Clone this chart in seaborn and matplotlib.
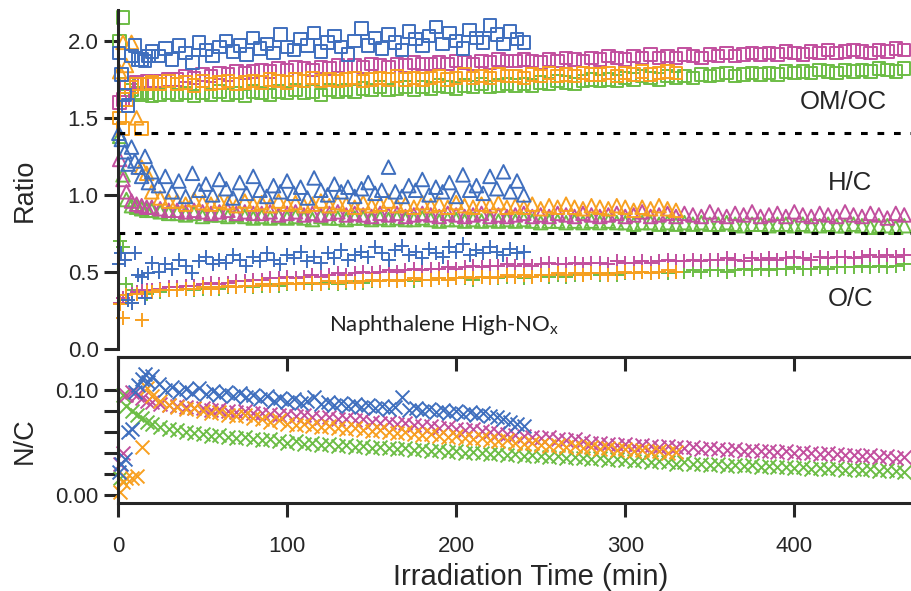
import matplotlib
matplotlib.use("Agg")
import matplotlib.pyplot as plt
import seaborn as sns

# ---- values ----
early_time = [1, 3, 5, 8, 11, 14, 17, 20, 25, 30]
late_time = [35, 40, 45, 50, 55, 60, 65, 70, 75, 80,
             85, 90, 95, 100, 105, 110, 115, 120, 125, 130,
             135, 140, 145, 150, 155, 160, 165, 170, 175, 180,
             185, 190, 195, 200, 205, 210, 215, 220, 225, 230,
             235, 240, 245, 250, 255, 260, 265, 270, 275, 280,
             285, 290, 295, 300, 305, 310, 315, 320, 325, 330,
             335, 340, 345, 350, 355, 360, 365, 370, 375, 380,
             385, 390, 395, 400, 405, 410, 415, 420, 425, 430,
             435, 440, 445, 450, 455, 460, 465]
blue_time = [0.5, 2, 4, 6, 8, 10, 12, 14, 16, 18, 20,
             24, 28, 32, 36, 40, 44, 48, 52, 56, 60,
             64, 68, 72, 76, 80, 84, 88, 92, 96, 100,
             104, 108, 112, 116, 120, 124, 128, 132, 136, 140,
             144, 148, 152, 156, 160, 164, 168, 172, 176, 180,
             184, 188, 192, 196, 200, 204, 208, 212, 216, 220,
             224, 228, 232, 236, 240]

# green run
green_omoc = [2.00, 2.15, 1.72, 1.68, 1.66, 1.65, 1.66, 1.64, 1.65, 1.66,
              1.65, 1.66, 1.64, 1.66, 1.65, 1.67, 1.65, 1.66, 1.64, 1.67,
              1.66, 1.65, 1.67, 1.66, 1.68, 1.66, 1.67, 1.65, 1.68, 1.67,
              1.68, 1.67, 1.69, 1.68, 1.70, 1.68, 1.69, 1.70, 1.68, 1.70,
              1.69, 1.71, 1.70, 1.69, 1.71, 1.70, 1.72, 1.70, 1.71, 1.72,
              1.71, 1.72, 1.71, 1.73, 1.72, 1.74, 1.73, 1.72, 1.74, 1.75,
              1.74, 1.75, 1.74, 1.76, 1.75, 1.77, 1.76, 1.75, 1.77, 1.76,
              1.77, 1.76, 1.78, 1.77, 1.78, 1.79, 1.77, 1.78, 1.79, 1.78,
              1.79, 1.78, 1.80, 1.79, 1.80, 1.79, 1.81, 1.80, 1.79, 1.81,
              1.80, 1.81, 1.80, 1.82, 1.81, 1.80, 1.82]
green_hc = [1.38, 1.13, 0.97, 0.93, 0.92, 0.91, 0.90, 0.90, 0.89, 0.88,
            0.88, 0.87, 0.88, 0.86, 0.87, 0.87, 0.86, 0.87, 0.86, 0.85,
            0.86, 0.85, 0.86, 0.85, 0.86, 0.85, 0.84, 0.86, 0.85, 0.85,
            0.84, 0.85, 0.85, 0.84, 0.85, 0.84, 0.85, 0.84, 0.84, 0.85,
            0.84, 0.83, 0.84, 0.84, 0.83, 0.84, 0.83, 0.84, 0.83, 0.84,
            0.83, 0.84, 0.83, 0.82, 0.83, 0.83, 0.82, 0.83, 0.82, 0.83,
            0.82, 0.83, 0.82, 0.82, 0.81, 0.82, 0.82, 0.81, 0.82, 0.81,
            0.82, 0.81, 0.82, 0.81, 0.81, 0.82, 0.81, 0.80, 0.81, 0.81,
            0.80, 0.81, 0.81, 0.80, 0.81, 0.80, 0.80, 0.81, 0.80, 0.80,
            0.81, 0.80, 0.79, 0.80, 0.80, 0.79, 0.80]
green_oc = [0.70, 0.66, 0.42, 0.38, 0.37, 0.37, 0.36, 0.37, 0.37, 0.38,
            0.38, 0.39, 0.38, 0.39, 0.40, 0.39, 0.40, 0.40, 0.41, 0.40,
            0.41, 0.42, 0.41, 0.42, 0.42, 0.43, 0.42, 0.43, 0.43, 0.42,
            0.43, 0.44, 0.43, 0.44, 0.44, 0.45, 0.44, 0.45, 0.44, 0.45,
            0.45, 0.46, 0.45, 0.46, 0.46, 0.45, 0.47, 0.46, 0.46, 0.47,
            0.47, 0.46, 0.47, 0.48, 0.47, 0.48, 0.47, 0.48, 0.48, 0.49,
            0.48, 0.49, 0.48, 0.49, 0.49, 0.50, 0.49, 0.50, 0.49, 0.50,
            0.50, 0.51, 0.50, 0.51, 0.51, 0.50, 0.51, 0.52, 0.51, 0.52,
            0.51, 0.52, 0.52, 0.53, 0.52, 0.52, 0.53, 0.52, 0.53, 0.53,
            0.53, 0.54, 0.53, 0.54, 0.53, 0.54, 0.55]
green_nc = [0.016, 0.095, 0.085, 0.080, 0.076, 0.073, 0.070, 0.068, 0.065, 0.063,
            0.062, 0.060, 0.059, 0.058, 0.056, 0.057, 0.055, 0.054, 0.055, 0.053,
            0.052, 0.053, 0.051, 0.050, 0.051, 0.049, 0.050, 0.048, 0.049, 0.047,
            0.048, 0.046, 0.047, 0.045, 0.046, 0.045, 0.044, 0.045, 0.043, 0.044,
            0.042, 0.043, 0.041, 0.042, 0.040, 0.041, 0.040, 0.039, 0.040, 0.038,
            0.039, 0.037, 0.038, 0.037, 0.036, 0.037, 0.035, 0.036, 0.035, 0.034,
            0.035, 0.033, 0.034, 0.033, 0.032, 0.033, 0.031, 0.032, 0.031, 0.030,
            0.031, 0.030, 0.030, 0.029, 0.030, 0.028, 0.029, 0.028, 0.029, 0.027,
            0.028, 0.027, 0.027, 0.026, 0.027, 0.025, 0.026, 0.025, 0.026, 0.024,
            0.025, 0.024, 0.025, 0.023, 0.024, 0.023, 0.022]

# magenta run
magenta_omoc = [1.60, 1.62, 1.70, 1.72, 1.73, 1.72, 1.74, 1.73, 1.74, 1.75,
                1.75, 1.77, 1.76, 1.78, 1.77, 1.79, 1.78, 1.80, 1.79, 1.80,
                1.81, 1.80, 1.82, 1.81, 1.83, 1.82, 1.81, 1.83, 1.82, 1.84,
                1.83, 1.84, 1.83, 1.85, 1.84, 1.83, 1.85, 1.84, 1.86, 1.85,
                1.85, 1.86, 1.85, 1.87, 1.86, 1.85, 1.87, 1.86, 1.88, 1.87,
                1.87, 1.88, 1.87, 1.86, 1.88, 1.87, 1.89, 1.88, 1.87, 1.89,
                1.88, 1.90, 1.89, 1.88, 1.90, 1.89, 1.91, 1.89, 1.90, 1.89,
                1.91, 1.90, 1.89, 1.91, 1.90, 1.92, 1.90, 1.91, 1.92, 1.91,
                1.92, 1.91, 1.93, 1.92, 1.91, 1.93, 1.92, 1.94, 1.92, 1.93,
                1.94, 1.93, 1.92, 1.94, 1.93, 1.95, 1.94]
magenta_hc = [1.23, 1.10, 1.02, 0.96, 0.94, 0.93, 0.92, 0.92, 0.91, 0.90,
              0.90, 0.89, 0.90, 0.89, 0.88, 0.89, 0.90, 0.88, 0.89, 0.88,
              0.88, 0.89, 0.87, 0.88, 0.89, 0.87, 0.88, 0.87, 0.88, 0.89,
              0.87, 0.88, 0.87, 0.86, 0.88, 0.87, 0.88, 0.86, 0.87, 0.88,
              0.87, 0.86, 0.88, 0.87, 0.86, 0.87, 0.88, 0.86, 0.87, 0.86,
              0.87, 0.88, 0.86, 0.87, 0.86, 0.88, 0.87, 0.86, 0.88, 0.87,
              0.86, 0.87, 0.88, 0.86, 0.87, 0.89, 0.86, 0.87, 0.88, 0.86,
              0.88, 0.87, 0.86, 0.89, 0.87, 0.86, 0.88, 0.87, 0.89, 0.86,
              0.87, 0.88, 0.86, 0.89, 0.87, 0.86, 0.88, 0.87, 0.86, 0.89,
              0.87, 0.86, 0.88, 0.87, 0.85, 0.88, 0.87]
magenta_oc = [0.30, 0.33, 0.35, 0.36, 0.37, 0.38, 0.38, 0.38, 0.39, 0.40,
              0.40, 0.41, 0.41, 0.42, 0.43, 0.42, 0.43, 0.44, 0.44, 0.45,
              0.45, 0.46, 0.46, 0.47, 0.46, 0.47, 0.48, 0.47, 0.48, 0.49,
              0.48, 0.49, 0.50, 0.49, 0.50, 0.51, 0.50, 0.51, 0.52, 0.51,
              0.52, 0.52, 0.53, 0.52, 0.53, 0.54, 0.53, 0.54, 0.54, 0.55,
              0.54, 0.55, 0.54, 0.55, 0.56, 0.55, 0.55, 0.56, 0.55, 0.56,
              0.56, 0.55, 0.57, 0.56, 0.56, 0.57, 0.56, 0.57, 0.58, 0.57,
              0.57, 0.58, 0.57, 0.58, 0.58, 0.59, 0.58, 0.57, 0.59, 0.58,
              0.59, 0.58, 0.59, 0.60, 0.59, 0.58, 0.60, 0.59, 0.60, 0.60,
              0.59, 0.60, 0.61, 0.60, 0.61, 0.60, 0.61]
magenta_nc = [0.030, 0.040, 0.095, 0.098, 0.095, 0.092, 0.090, 0.089, 0.087, 0.086,
              0.085, 0.084, 0.083, 0.083, 0.081, 0.082, 0.080, 0.079, 0.080, 0.078,
              0.078, 0.077, 0.076, 0.077, 0.075, 0.076, 0.074, 0.073, 0.074, 0.072,
              0.072, 0.071, 0.072, 0.070, 0.069, 0.070, 0.068, 0.069, 0.067, 0.066,
              0.066, 0.064, 0.065, 0.063, 0.062, 0.063, 0.061, 0.060, 0.059, 0.058,
              0.057, 0.056, 0.055, 0.054, 0.055, 0.053, 0.052, 0.053, 0.051, 0.050,
              0.050, 0.049, 0.048, 0.049, 0.047, 0.048, 0.047, 0.046, 0.047, 0.046,
              0.045, 0.046, 0.044, 0.045, 0.044, 0.043, 0.044, 0.042, 0.043, 0.042,
              0.042, 0.041, 0.042, 0.040, 0.041, 0.040, 0.039, 0.040, 0.039, 0.038,
              0.038, 0.037, 0.038, 0.036, 0.037, 0.035, 0.036]

# orange run (stops at 330 min)
orange_omoc = [1.50, 1.43, 1.62, 1.70, 1.72, 1.43, 1.72, 1.73, 1.72, 1.74,
               1.72, 1.73, 1.71, 1.74, 1.72, 1.73, 1.74, 1.72, 1.73, 1.74,
               1.73, 1.75, 1.74, 1.73, 1.75, 1.74, 1.76, 1.74, 1.75, 1.74,
               1.75, 1.76, 1.74, 1.75, 1.76, 1.75, 1.77, 1.75, 1.76, 1.75,
               1.76, 1.77, 1.75, 1.76, 1.78, 1.76, 1.77, 1.76, 1.78, 1.77,
               1.77, 1.76, 1.78, 1.77, 1.79, 1.77, 1.78, 1.77, 1.79, 1.78,
               1.78, 1.79, 1.77, 1.79, 1.78, 1.80, 1.78, 1.79, 1.80, 1.79]
orange_hc = [1.80, 1.99, 1.84, 1.99, 1.50, 1.18, 1.14, 1.02, 0.98, 0.96,
             0.96, 0.94, 0.97, 0.95, 0.94, 0.96, 0.95, 0.93, 0.96, 0.94,
             0.95, 0.93, 0.96, 0.94, 0.95, 0.93, 0.94, 0.96, 0.93, 0.95,
             0.94, 0.92, 0.95, 0.93, 0.94, 0.96, 0.93, 0.94, 0.92, 0.95,
             0.93, 0.94, 0.92, 0.95, 0.93, 0.92, 0.94, 0.93, 0.95, 0.92,
             0.93, 0.92, 0.94, 0.91, 0.93, 0.92, 0.94, 0.92, 0.91, 0.93,
             0.92, 0.91, 0.93, 0.92, 0.90, 0.92, 0.91, 0.93, 0.91, 0.90]
orange_oc = [0.29, 0.20, 0.35, 0.30, 0.36, 0.19, 0.37, 0.37, 0.38, 0.38,
             0.38, 0.39, 0.39, 0.40, 0.39, 0.40, 0.41, 0.40, 0.41, 0.41,
             0.42, 0.41, 0.42, 0.43, 0.42, 0.43, 0.43, 0.42, 0.44, 0.43,
             0.44, 0.43, 0.44, 0.45, 0.44, 0.45, 0.44, 0.45, 0.46, 0.45,
             0.45, 0.46, 0.45, 0.46, 0.47, 0.46, 0.47, 0.46, 0.47, 0.48,
             0.47, 0.48, 0.47, 0.48, 0.48, 0.49, 0.48, 0.49, 0.48, 0.49,
             0.49, 0.48, 0.49, 0.50, 0.49, 0.50, 0.49, 0.50, 0.51, 0.50]
orange_nc = [0.003, 0.012, 0.016, 0.016, 0.018, 0.046, 0.102, 0.094, 0.090, 0.086,
             0.084, 0.082, 0.083, 0.080, 0.078, 0.079, 0.076, 0.075, 0.076, 0.073,
             0.072, 0.070, 0.071, 0.068, 0.067, 0.068, 0.066, 0.065, 0.066, 0.064,
             0.063, 0.064, 0.062, 0.061, 0.062, 0.060, 0.059, 0.060, 0.058, 0.057,
             0.058, 0.056, 0.055, 0.056, 0.054, 0.053, 0.054, 0.052, 0.051, 0.052,
             0.050, 0.049, 0.050, 0.048, 0.047, 0.048, 0.046, 0.047, 0.045, 0.046,
             0.044, 0.045, 0.043, 0.044, 0.042, 0.043, 0.041, 0.042, 0.040, 0.041]

# blue run (stops at 240 min)
blue_omoc = [1.92, 1.78, 1.65, 1.58, 1.90, 1.97, 1.88, 1.88, 1.87, 1.90, 1.93,
             1.90, 1.95, 1.88, 1.97, 1.92, 1.86, 1.99, 1.94, 1.90, 1.96,
             2.00, 1.93, 1.97, 1.91, 2.02, 1.95, 1.98, 1.92, 2.04, 1.96,
             1.94, 2.01, 1.97, 2.05, 1.93, 1.99, 2.03, 1.96, 1.91, 2.00,
             2.08, 1.97, 2.02, 1.95, 2.04, 1.99, 1.94, 2.06, 2.01, 1.97,
             2.03, 2.09, 1.98, 2.05, 2.00, 1.95, 2.07, 2.02, 1.99, 2.10,
             2.04, 1.98, 2.06, 2.01, 1.99]
blue_hc = [1.40, 1.36, 1.28, 1.20, 1.31, 1.22, 1.18, 1.12, 1.25, 1.08, 1.15,
           1.06, 1.12, 1.02, 1.09, 0.99, 1.14, 1.03, 1.07, 1.00, 1.10,
           1.04, 0.98, 1.08, 1.01, 1.12, 1.03, 0.99, 1.06, 1.02, 1.09,
           1.01, 1.05, 0.98, 1.11, 1.03, 1.00, 1.07, 1.02, 1.05, 0.99,
           1.04, 1.08, 1.01, 1.03, 1.18, 1.02, 0.99, 1.06, 1.03, 1.10,
           1.00, 1.05, 1.02, 1.08, 0.99, 1.13, 1.03, 1.06, 1.01, 1.12,
           1.04, 1.15, 1.02, 1.09, 1.00]
blue_oc = [0.55, 0.62, 0.58, 0.32, 0.30, 0.62, 0.48, 0.47, 0.33, 0.49, 0.56,
           0.50, 0.55, 0.52, 0.58, 0.54, 0.49, 0.57, 0.60, 0.55, 0.58,
           0.56, 0.61, 0.58, 0.54, 0.60, 0.57, 0.62, 0.58, 0.55, 0.61,
           0.59, 0.63, 0.57, 0.60, 0.56, 0.62, 0.59, 0.64, 0.58, 0.61,
           0.63, 0.60, 0.66, 0.62, 0.58, 0.64, 0.67, 0.61, 0.63, 0.59,
           0.65, 0.62, 0.60, 0.66, 0.63, 0.68, 0.61, 0.64, 0.62, 0.66,
           0.63, 0.61, 0.65, 0.62, 0.63]
blue_nc = [0.022, 0.030, 0.034, 0.060, 0.063, 0.098, 0.105, 0.110, 0.115, 0.108, 0.113,
           0.106, 0.100, 0.103, 0.098, 0.101, 0.097, 0.102, 0.096, 0.099, 0.095,
           0.098, 0.094, 0.097, 0.093, 0.095, 0.091, 0.094, 0.090, 0.092, 0.089,
           0.091, 0.088, 0.090, 0.093, 0.087, 0.089, 0.086, 0.088, 0.085, 0.087,
           0.084, 0.086, 0.083, 0.085, 0.082, 0.084, 0.093, 0.081, 0.083, 0.080,
           0.082, 0.079, 0.081, 0.078, 0.080, 0.077, 0.079, 0.076, 0.078, 0.075,
           0.074, 0.072, 0.070, 0.068, 0.066]

ratio_ticks = [0.0, 0.5, 1.0, 1.5, 2.0]
nc_ticks = [0.00, 0.02, 0.04, 0.06, 0.08, 0.10]
nc_labels = ["0.00", "", "", "", "", "0.10"]
time_ticks = [0, 100, 200, 300, 400]
separators = [1.40, 0.75]

GREEN = "#6CBD45"
MAGENTA = "#C24F9E"
ORANGE = "#F8A020"
BLUE = "#3F6FBE"

sns.set_style("ticks")
plt.rcParams["font.family"] = ["Liberation Sans", "DejaVu Sans"]

runs = [
    (early_time + late_time, green_omoc, green_hc, green_oc, green_nc, GREEN),
    (early_time + late_time, magenta_omoc, magenta_hc, magenta_oc, magenta_nc, MAGENTA),
    (early_time + late_time[:60], orange_omoc, orange_hc, orange_oc, orange_nc, ORANGE),
    (blue_time, blue_omoc, blue_hc, blue_oc, blue_nc, BLUE),
]

fig = plt.figure(figsize=(9.11, 5.91), dpi=100)
ax1 = fig.add_axes([0.1295, 0.4095, 0.8705, 0.5736])
ax2 = fig.add_axes([0.1295, 0.1489, 0.8705, 0.247])

mk = dict(legend=False, clip_on=False, linewidth=1.4)
for t, omoc, hc, oc, nc, c in runs:
    sns.scatterplot(x=t, y=omoc, marker="s", s=80, facecolor="none", edgecolor=c, ax=ax1, **mk)
    sns.scatterplot(x=t, y=hc, marker="^", s=95, facecolor="none", edgecolor=c, ax=ax1, **mk)
    sns.scatterplot(x=t, y=oc, marker="+", s=115, color=c, ax=ax1, **mk)
    sns.scatterplot(x=t, y=nc, marker="x", s=100, color=c, ax=ax2, **mk)

for yv in separators:
    ax1.axhline(yv, color="black", lw=2.2, ls=(0, (2.2, 3.2)))

# top panel
ax1.set_xlim(0, 469)
ax1.set_ylim(0, 2.2)
ax1.set_yticks(ratio_ticks)
ax1.set_yticklabels([f"{v:.1f}" for v in ratio_ticks])
for s in ["top", "right", "bottom"]:
    ax1.spines[s].set_visible(False)
ax1.spines["left"].set_linewidth(2.2)
ax1.tick_params(axis="y", direction="out", length=10, width=2.2, labelsize=16, pad=4)
ax1.tick_params(axis="x", bottom=False, labelbottom=False)

ax1.text(429, 1.60, "OM/OC", fontsize=18.5, ha="center", va="center")
ax1.text(433, 1.08, "H/C", fontsize=18.5, ha="center", va="center")
ax1.text(433, 0.325, "O/C", fontsize=18.5, ha="center", va="center")
ax1.text(125, 0.156, r"Naphthalene High-NO$\mathregular{_x}$", fontsize=16,
         ha="left", va="center", color="#222222", family=["Lato", "DejaVu Sans"])

# bottom panel
ax2.set_xlim(0, 469)
ax2.set_ylim(-0.0076, 0.1314)
ax2.set_yticks(nc_ticks)
ax2.set_yticklabels(nc_labels)
ax2.set_xticks(time_ticks)
ax2.spines["right"].set_visible(False)
for s in ["top", "left", "bottom"]:
    ax2.spines[s].set_linewidth(2.2)
ax2.tick_params(direction="out", length=10, width=2.2, labelsize=16, pad=4)
ax2.tick_params(axis="x", pad=14)
top = ax2.secondary_xaxis("top")
top.set_xticks(time_ticks)
top.tick_params(direction="in", length=10, width=2.2, labeltop=False)
top.spines["top"].set_linewidth(2.2)

fig.text(0.027, 0.678, "Ratio", rotation=90, fontsize=19.5, ha="center", va="center")
fig.text(0.027, 0.255, "N/C", rotation=90, fontsize=19.5, ha="center", va="center")
fig.text(0.583, 0.024, "Irradiation Time (min)", fontsize=21, ha="center", va="center")

fig.savefig("out.png", dpi=100)
